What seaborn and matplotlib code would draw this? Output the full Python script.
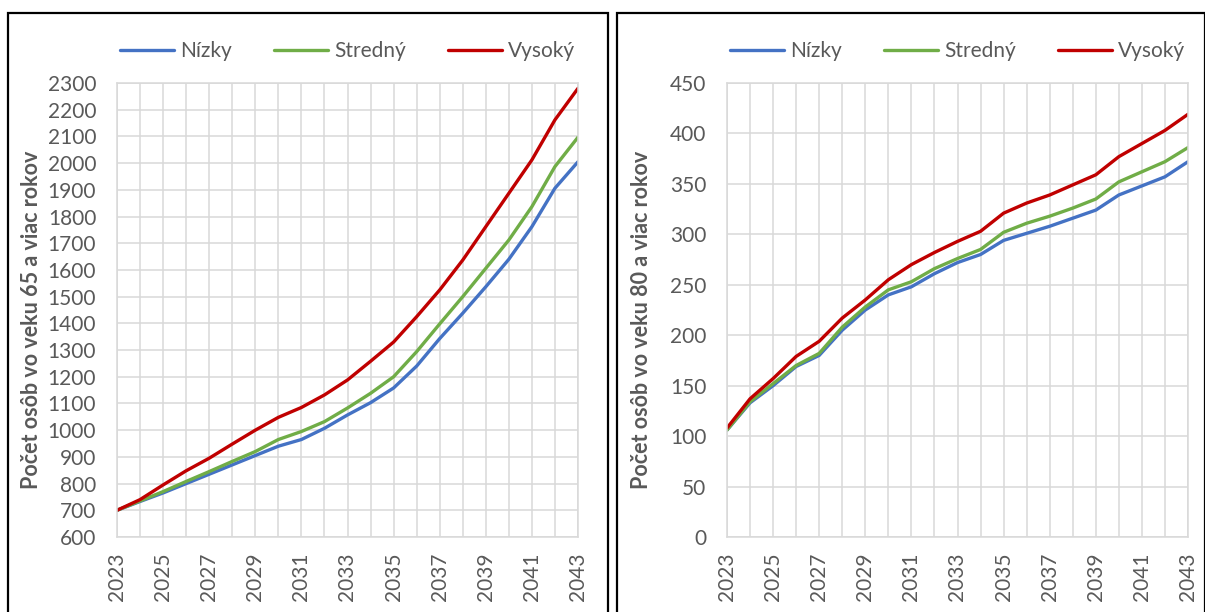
import numpy as np
import pandas as pd
import matplotlib
matplotlib.use('Agg')
import matplotlib.pyplot as plt
import seaborn as sns
from matplotlib.patches import Rectangle

years = list(range(2023, 2044))
scenarios = ['Nízky', 'Stredný', 'Vysoký']
colors = ['#4472C4', '#70AD47', '#C00000']

# 65+ (tis. osob)
age65_low = [700, 733, 765, 800, 835, 870, 905, 940, 965, 1007, 1057, 1103, 1158,
             1240, 1343, 1438, 1537, 1640, 1762, 1906, 2005]
age65_mid = [700, 735, 770, 808, 845, 883, 920, 965, 995, 1032, 1083, 1138, 1200,
             1294, 1398, 1500, 1606, 1712, 1837, 1987, 2097]
age65_high = [700, 740, 795, 848, 895, 948, 1000, 1048, 1085, 1132, 1188, 1258, 1330,
              1425, 1525, 1637, 1762, 1887, 2012, 2162, 2280]

# 80+ (tis. osob)
age80_low = [106, 133, 150, 169, 180, 205, 225, 240, 248, 261, 272, 280, 294,
             301, 308, 316, 324, 339, 348, 357, 372]
age80_mid = [106, 134, 152, 170, 182, 208, 228, 245, 253, 266, 276, 285, 302,
             311, 318, 326, 335, 352, 362, 372, 386]
age80_high = [108, 137, 157, 179, 194, 217, 235, 255, 270, 282, 293, 303, 321,
              331, 339, 349, 359, 377, 390, 403, 419]

ylabel_65 = 'Počet osôb vo veku 65 a viac rokov'
ylabel_80 = 'Počet osôb vo veku 80 a viac rokov'


def long_df(low, mid, high):
    parts = []
    for name, vals in zip(scenarios, [low, mid, high]):
        parts.append(pd.DataFrame({'rok': years, 'hodnota': vals, 'scenar': name}))
    return pd.concat(parts, ignore_index=True)


sns.set_style('white')
plt.rcParams['font.family'] = ['Lato', 'DejaVu Sans']
txt = '#595959'
grid_c = '#d9d9d9'

fig = plt.figure(figsize=(12.05, 6.12), dpi=100)
W, H = 1205, 612

# panel frames
fig.patches.append(Rectangle((8 / W, -0.1), 600 / W, 1.1 - 13 / H, transform=fig.transFigure,
                             fill=False, edgecolor='black', linewidth=1.6))
fig.patches.append(Rectangle((617 / W, -0.1), 588 / W, 1.1 - 13 / H, transform=fig.transFigure,
                             fill=False, edgecolor='black', linewidth=1.6))

panels = [
    (long_df(age65_low, age65_mid, age65_high), ylabel_65, 117, (600, 2300), 100),
    (long_df(age80_low, age80_mid, age80_high), ylabel_80, 727, (0, 450), 50),
]

for df, ylab, left_px, ylim, step in panels:
    ax = fig.add_axes([left_px / W, 1 - 537 / H, 461 / W, 454 / H])
    sns.lineplot(data=df, x='rok', y='hodnota', hue='scenar', palette=colors,
                 linewidth=2.4, ax=ax, legend=True)
    ax.set_xlim(2023, 2043)
    ax.set_ylim(*ylim)
    ax.set_xticks(years)
    ax.set_xticklabels([str(y) if (y - 2023) % 2 == 0 else '' for y in years],
                       rotation=90)
    ax.set_yticks(np.arange(ylim[0], ylim[1] + 1, step))
    ax.grid(True, color=grid_c, linewidth=1.1)
    ax.set_axisbelow(True)
    for s in ax.spines.values():
        s.set_color(grid_c)
        s.set_linewidth(1.1)
    ax.tick_params(axis='both', length=0, labelsize=15, labelcolor=txt)
    ax.tick_params(axis='y', pad=15)
    ax.tick_params(axis='x', pad=11)
    ax.set_xlabel('')
    ax.set_ylabel(ylab, fontsize=15.5, fontweight='bold', color=txt)
    ax.yaxis.set_label_coords(-0.162, 0.478)

    handles, labels = ax.get_legend_handles_labels()
    ax.get_legend().remove()
    ax.legend(handles, labels, loc='center', bbox_to_anchor=(0.5, 1 + (83 - 51) / 454),
              ncol=3, frameon=False, fontsize=15, handlelength=2.6,
              handletextpad=0.3, columnspacing=2.0, labelcolor=txt)

fig.savefig('out.png', dpi=100)
